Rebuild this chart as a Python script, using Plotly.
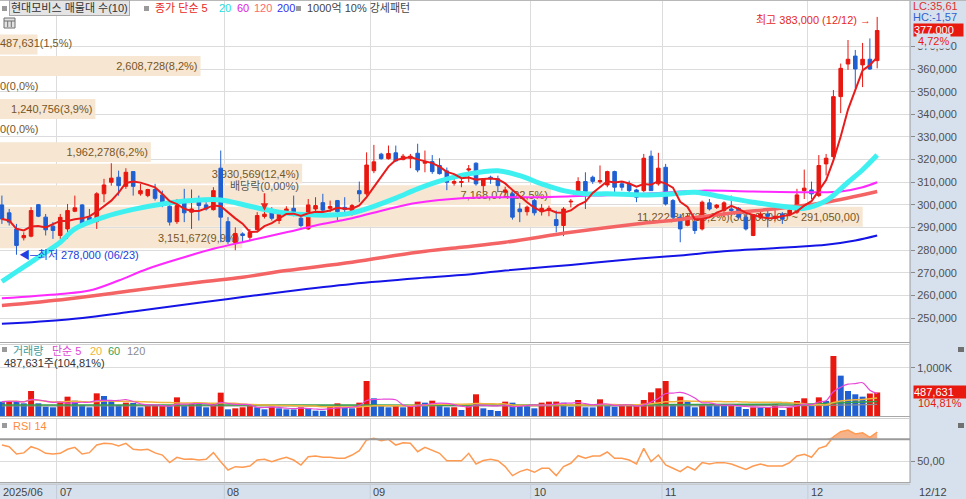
import numpy as np
import pandas as pd
import plotly.graph_objects as go

W, H = 966, 499

# ---------------- data ----------------
HOLIDAYS = ["2025-08-15", "2025-10-03", "2025-10-06", "2025-10-07", "2025-10-08", "2025-10-09"]
dates = [d for d in pd.bdate_range("2025-06-19", "2025-12-12") if d.strftime("%Y-%m-%d") not in HOLIDAYS]

open_k = [300.0, 296.5, 289.4, 285.5, 286.2, 300.1, 294.6, 290.6, 286.5, 289.4,
          297.2, 300.0, 294.6, 292.6, 304.9, 310.0, 312.2, 308.2, 314.7, 304.9,
          304.1, 306.8, 304.4, 299.4, 292.6, 302.4, 296.8, 302.4, 300.0, 297.9,
          316.2, 292.6, 283.4, 287.2, 285.7, 289.1, 294.9, 297.5, 293.1, 296.5,
          298.5, 294.1, 289.4, 298.2, 301.0, 298.5, 301.9, 298.9, 295.9, 306.3,
          304.9, 315.1, 322.4, 320.4, 323.0, 320.0, 320.6, 322.8, 318.4, 319.1,
          317.4, 315.0, 309.6, 309.9, 315.4, 318.4, 308.5, 312.2, 311.5, 305.6,
          304.9, 298.2, 297.0, 301.9, 297.0, 297.5, 293.5, 290.9, 301.3, 304.9,
          310.3, 312.2, 310.2, 308.8, 314.7, 309.3, 309.3, 306.6, 306.3, 321.5,
          309.3, 316.6, 301.9, 294.6, 291.0, 292.6, 289.4, 300.9, 298.9, 297.5,
          298.2, 298.5, 294.6, 286.5, 294.6, 296.0, 294.1, 296.0, 295.6, 296.8,
          306.3, 306.6, 304.1, 318.1, 321.3, 347.8, 362.2, 365.7, 361.8, 364.3,
          363.7]
high_k = [304.1, 298.2, 291.6, 287.9, 299.0, 300.4, 296.0, 292.4, 296.0, 300.4,
          304.1, 300.4, 298.2, 305.6, 311.5, 318.4, 315.1, 316.2, 314.9, 309.3,
          307.1, 309.3, 306.3, 300.0, 302.6, 307.1, 306.8, 304.1, 301.2, 307.8,
          324.0, 294.6, 290.1, 287.9, 289.4, 296.8, 297.0, 299.0, 297.5, 299.4,
          304.1, 296.0, 302.6, 303.4, 304.9, 301.9, 302.2, 303.4, 300.4, 310.3,
          323.2, 326.5, 323.0, 326.2, 326.2, 322.5, 322.5, 327.0, 324.0, 322.0,
          320.6, 316.5, 311.8, 312.2, 317.6, 318.8, 311.8, 312.9, 312.9, 308.0,
          305.6, 300.9, 299.7, 302.6, 300.4, 299.7, 297.5, 299.0, 302.6, 312.2,
          314.4, 312.9, 317.4, 315.1, 315.1, 310.3, 310.7, 307.1, 322.5, 324.0,
          323.0, 318.1, 302.6, 296.0, 296.0, 293.8, 301.9, 302.6, 300.4, 301.6,
          304.1, 299.0, 296.0, 296.0, 298.2, 297.5, 299.7, 296.8, 299.7, 307.1,
          315.6, 310.3, 322.0, 322.5, 350.7, 362.4, 372.8, 368.4, 371.5, 373.5,
          383.0]
low_k = [291.6, 290.9, 278.0, 284.3, 285.7, 294.6, 286.5, 285.0, 285.0, 285.0,
         296.8, 290.1, 291.6, 289.4, 301.2, 308.5, 304.1, 307.1, 304.1, 304.1,
         303.4, 301.9, 299.0, 290.9, 291.6, 292.4, 289.4, 293.1, 297.5, 297.5,
         283.5, 282.8, 280.0, 283.5, 284.3, 288.7, 294.0, 293.1, 291.6, 295.6,
         295.0, 290.1, 289.0, 296.8, 297.0, 296.8, 293.1, 296.0, 295.3, 301.2,
         304.1, 314.0, 320.0, 320.0, 319.0, 319.7, 316.2, 314.4, 314.4, 313.7,
         313.4, 306.5, 308.5, 307.8, 310.0, 308.5, 305.6, 309.3, 305.6, 304.1,
         293.5, 292.4, 295.3, 295.3, 295.3, 295.0, 287.9, 286.2, 298.9, 304.1,
         298.2, 309.3, 309.3, 307.8, 304.9, 306.3, 305.6, 301.2, 305.6, 306.3,
         308.5, 299.7, 293.8, 283.5, 290.6, 287.2, 288.7, 297.5, 298.2, 294.6,
         295.3, 293.8, 288.7, 286.2, 293.8, 290.1, 293.1, 291.6, 295.0, 296.0,
         302.6, 302.6, 303.4, 313.0, 320.0, 340.5, 359.6, 351.6, 352.0, 359.6,
         360.3]
close_k = [293.8, 292.4, 282.1, 286.5, 297.5, 295.0, 289.0, 288.7, 294.5, 297.5,
           298.7, 290.9, 293.0, 304.9, 308.8, 311.8, 308.5, 314.4, 308.2, 306.3,
           306.8, 302.9, 300.0, 292.4, 299.7, 296.5, 298.2, 299.7, 298.2, 306.3,
           294.6, 283.8, 287.4, 286.5, 287.9, 295.3, 295.9, 294.1, 296.5, 298.2,
           296.0, 290.9, 300.0, 299.7, 297.7, 299.3, 297.0, 298.0, 299.7, 304.9,
           317.6, 319.0, 320.4, 322.7, 319.4, 321.5, 321.5, 315.4, 319.1, 314.7,
           313.8, 310.0, 310.3, 310.3, 315.9, 309.3, 311.5, 311.5, 308.5, 306.6,
           294.6, 297.0, 299.0, 296.5, 298.5, 298.5, 290.9, 298.2, 301.6, 310.3,
           305.9, 310.4, 310.7, 314.7, 307.8, 307.8, 306.3, 303.4, 320.6, 306.3,
           316.2, 300.4, 294.6, 289.4, 295.0, 288.7, 301.2, 298.2, 299.9, 300.9,
           297.5, 294.6, 289.4, 295.6, 296.0, 295.0, 295.0, 293.8, 297.7, 304.4,
           307.4, 304.9, 317.4, 320.6, 347.8, 360.3, 364.3, 360.0, 364.3, 360.0,
           377.0]
volume_k = [297, 310, 305, 262, 518, 262, 193, 180, 297, 400,
            317, 228, 180, 469, 414, 317, 228, 276, 270, 180,
            207, 210, 212, 205, 386, 207, 248, 245, 180, 248,
            483, 138, 159, 180, 221, 180, 138, 193, 159, 138,
            136, 180, 159, 110, 108, 193, 262, 180, 159, 276,
            725, 366, 207, 180, 207, 180, 207, 297, 276, 317,
            228, 180, 181, 124, 207, 449, 159, 124, 104, 297,
            276, 207, 205, 159, 276, 297, 298, 276, 193, 331,
            180, 178, 345, 207, 193, 207, 210, 212, 331, 490,
            573, 725, 250, 400, 297, 180, 248, 240, 228, 207,
            210, 193, 145, 180, 178, 182, 248, 124, 180, 310,
            366, 207, 386, 310, 1242, 835, 518, 449, 400, 465.26,
            487.631]
rsi14 = [64.7, 63.2, 56.5, 57.5, 63.2, 61.0, 57.1, 56.5, 57.1, 60.8,
         62.6, 56.5, 57.7, 64.7, 66.3, 66.0, 63.8, 66.3, 60.8, 60.2,
         60.8, 57.5, 55.5, 48.5, 53.4, 51.6, 51.8, 51.0, 51.6, 57.7,
         49.4, 41.7, 44.8, 44.2, 45.4, 50.9, 51.6, 49.4, 51.6, 53.4,
         50.9, 46.3, 54.0, 54.6, 53.4, 53.4, 52.5, 52.5, 55.5, 59.5,
         69.4, 70.9, 68.7, 70.0, 64.7, 66.9, 66.3, 58.6, 62.6, 59.5,
         57.1, 50.3, 50.3, 50.3, 57.1, 47.3, 50.5, 51.6, 50.3, 44.8,
         36.5, 40.2, 42.3, 39.6, 43.3, 43.3, 36.5, 44.8, 47.9, 54.9,
         52.5, 54.6, 54.6, 58.3, 52.5, 52.5, 50.9, 47.3, 61.7, 49.4,
         55.5, 46.3, 43.3, 40.2, 44.8, 41.7, 48.5, 47.3, 48.5, 48.5,
         47.3, 44.8, 42.3, 45.4, 47.3, 45.4, 45.4, 45.4, 48.5, 54.6,
         56.1, 53.4, 61.7, 63.8, 72.4, 77.0, 78.6, 74.9, 76.1, 71.8,
         76.7]

# moving averages (index of candle, value in thousand won)
ma20_idx = [0, 2, 5, 8, 10, 14, 18, 22, 26, 30, 34, 38, 42, 46, 48, 51, 54, 57, 60, 64, 68,
            71, 74, 77, 80, 83, 88, 92, 95, 99, 103, 108, 110, 113, 116, 118, 120]
ma20_k = [266.2, 270.5, 276.9, 283.5, 289.4, 294.6, 298.0, 300.4, 301.9, 302.2, 299.4, 296.8,
          295.6, 295.6, 296.5, 299.4, 303.0, 307.1, 310.5, 313.7, 315.1, 312.9, 309.3, 306.3,
          304.9, 304.9, 304.4, 304.9, 305.6, 303.4, 301.2, 299.0, 298.5, 301.9, 310.0, 315.5, 322.0]
ma60_idx = [0, 8, 12, 16, 20, 25, 29, 34, 39, 43, 48, 53, 57, 63, 67, 74, 81, 88, 93, 96,
            103, 111, 115, 118, 120]
ma60_k = [258.8, 260.7, 262.2, 266.6, 271.8, 276.9, 280.6, 284.3, 287.9, 290.9, 294.1, 298.2,
          300.9, 302.9, 303.4, 303.4, 304.1, 304.9, 305.9, 306.3, 305.9, 305.6, 305.9, 307.8, 310.0]
ma120_idx = [0, 9, 18, 27, 33, 39, 48, 57, 63, 69, 78, 87, 93, 99, 108, 113, 120]
ma120_k = [255.6, 258.5, 262.2, 265.9, 268.1, 271.0, 274.7, 279.1, 281.3, 283.5, 287.9, 291.6,
           293.6, 296.0, 299.0, 301.2, 305.9]
ma200_idx = [0, 9, 18, 27, 33, 39, 48, 57, 63, 69, 78, 87, 93, 99, 108, 113, 117, 120]
ma200_k = [247.5, 249.4, 252.9, 256.8, 259.3, 261.8, 265.1, 267.6, 269.0, 271.0, 273.5, 276.2,
           277.7, 279.5, 281.3, 282.4, 284.3, 286.5]
vma60_idx = [0, 20, 40, 60, 80, 95, 105, 112, 116, 120]
vma60_k = [228, 230, 228, 225, 228, 240, 245, 255, 280, 298]
vma120_idx = [0, 30, 60, 90, 110, 120]
vma120_k = [207, 210, 207, 210, 215, 240]

# volume profile (매물대) bands, top to bottom
band_center_k = [370.8, 361.3, 351.8, 342.3, 332.8, 323.3, 313.8, 304.3, 294.8, 285.3]
band_volume = [487631, 2608728, 0, 1240756, 0, 1962278, 3930569, 7168074, 11222847, 3151672]
band_pct = [1.5, 8.2, 0.0, 3.9, 0.0, 6.2, 12.4, 22.5, 35.2, 9.9]
band_max_range = (300000, 291050)
band_height_k = 8.8

month_labels = ["2025/06", "07", "08", "09", "10", "11", "12"]
price_ticks_k = list(range(250, 380, 10))

# ---------------- derived ----------------
n = len(dates)
assert all(len(a) == n for a in [open_k, high_k, low_k, close_k, volume_k, rsi14])
idx = list(range(n))
o = np.array(open_k) * 1000
c = np.array(close_k) * 1000
h = np.maximum(np.array(high_k) * 1000, np.maximum(o, c))
l = np.minimum(np.array(low_k) * 1000, np.minimum(o, c))
vol = np.array(volume_k) * 1000
ma5 = pd.Series(c).rolling(5, min_periods=1).mean()
vma5 = pd.Series(vol).rolling(5, min_periods=1).mean()
vma20 = pd.Series(vol).rolling(20, min_periods=1).mean()

month_start = [0] + [i for i in range(1, n) if dates[i].month != dates[i - 1].month]
grid_x = [m - 0.5 for m in month_start[1:]]

RED, BLUE = "#e8170f", "#1f5fd2"
vol_colors = [BLUE] + [RED if vol[i] >= vol[i - 1] else BLUE for i in range(1, n)]

def comma_dec(s):
    return s.replace(".", ",")

pct_chg = (c[-1] / c[-2] - 1) * 100
vol_ratio = vol[-1] / vol[-2] * 100
lc = (c[-1] / l.min() - 1) * 100
hc = (c[-1] / h.max() - 1) * 100
i_hi, i_lo = int(np.argmax(h)), int(np.argmin(l))

# ---------------- layout geometry (pixels) ----------------
XR = 910 / W
def py(p):
    return 1 - p / H
X_RANGE = [-0.26, 124.5]
MAIN_DOM = [py(342), py(1)]
VOL_DOM = [py(416), py(344)]
RSI_DOM = [py(482), py(419)]
PRICE_RANGE = [239470, 390020]
VOL_RANGE = [0, 1490000]
RSI_RANGE = [30.65, 88.71]

FONT = "Liberation Sans, Noto Sans CJK KR, sans-serif"
BAND_TXT = "#765626"
STRIP = "#d7e1ed"

fig = go.Figure()

# volume profile bars (base subplot, under the candles)
bmax = max(band_volume)
band_text = []
small_x, small_y, small_t = [], [], []
for v, p, ck in zip(band_volume, band_pct, band_center_k):
    t = comma_dec(f"{v:,}({p:.1f}%)")
    if v == bmax:
        t += comma_dec(f"({band_max_range[0]:,.2f} ~ {band_max_range[1]:,.2f})")
    if v / bmax > 0.1:
        band_text.append(t)
    else:
        band_text.append("")
        small_x.append(0); small_y.append(ck * 1000); small_t.append(t)

fig.add_trace(go.Bar(
    x=band_volume, y=[b * 1000 for b in band_center_k], orientation="h",
    width=band_height_k * 1000, marker=dict(color="#f6e6d2", line=dict(width=0)),
    text=band_text, textposition="inside", insidetextanchor="end", textangle=0,
    insidetextfont=dict(color=BAND_TXT, size=11, family=FONT),
    xaxis="x", yaxis="y", hoverinfo="skip", showlegend=False))
fig.add_trace(go.Scatter(
    x=small_x, y=small_y, mode="text", text=small_t, textposition="middle right",
    textfont=dict(color=BAND_TXT, size=11, family=FONT),
    xaxis="x", yaxis="y", hoverinfo="skip", showlegend=False))

# candles
fig.add_trace(go.Candlestick(
    x=idx, open=o, high=h, low=l, close=c, xaxis="x2", yaxis="y",
    increasing=dict(line=dict(color=RED, width=1), fillcolor=RED),
    decreasing=dict(line=dict(color=BLUE, width=1), fillcolor=BLUE),
    whiskerwidth=0, hoverinfo="skip", showlegend=False))

def ma_line(xs, ys, color, width, shape="spline"):
    fig.add_trace(go.Scatter(x=xs, y=ys, mode="lines", line=dict(color=color, width=width, shape=shape),
                             xaxis="x2", yaxis="y", hoverinfo="skip", showlegend=False))

ma_line(ma200_idx, [v * 1000 for v in ma200_k], "#1414e6", 2)
ma_line(ma120_idx, [v * 1000 for v in ma120_k], "#f46464", 3.5)
ma_line(ma60_idx, [v * 1000 for v in ma60_k], "#ff28ff", 2)
ma_line(ma20_idx, [v * 1000 for v in ma20_k], "#3ff0f0", 5)
ma_line(idx, ma5, "#e81c1c", 2, "linear")

# volume panel
fig.add_trace(go.Bar(x=idx, y=vol, marker=dict(color=vol_colors, line=dict(width=0)),
                     xaxis="x3", yaxis="y2", hoverinfo="skip", showlegend=False))
for xs, ys, col, wd in [(vma120_idx, [v * 1000 for v in vma120_k], "#8c8c8c", 1.2),
                        (vma60_idx, [v * 1000 for v in vma60_k], "#38a048", 1.5),
                        (idx, vma20, "#f0b43c", 1.5),
                        (idx, vma5, "#e848d8", 1.2)]:
    fig.add_trace(go.Scatter(x=xs, y=ys, mode="lines", line=dict(color=col, width=wd, shape="spline"),
                             xaxis="x3", yaxis="y2", hoverinfo="skip", showlegend=False))

# RSI panel
fig.add_trace(go.Scatter(x=idx, y=[70] * n, mode="lines", line=dict(width=0),
                         xaxis="x4", yaxis="y3", hoverinfo="skip", showlegend=False))
fig.add_trace(go.Scatter(x=idx, y=np.maximum(rsi14, 70), mode="lines", line=dict(width=0),
                         fill="tonexty", fillcolor="#f6b389",
                         xaxis="x4", yaxis="y3", hoverinfo="skip", showlegend=False))
fig.add_trace(go.Scatter(x=idx, y=rsi14, mode="lines", line=dict(color="#ff9a52", width=1.5),
                         xaxis="x4", yaxis="y3", hoverinfo="skip", showlegend=False))

GRID = "#dcdcdc"
idx_axis = dict(range=X_RANGE, tickvals=grid_x, showgrid=True, gridcolor=GRID, gridwidth=1,
                showticklabels=False, ticks="", zeroline=False, showline=False, fixedrange=True)
tickfont = dict(size=11, color="#505050", family=FONT)

fig.update_layout(
    width=W, height=H, margin=dict(l=0, r=0, t=0, b=0), autosize=False,
    paper_bgcolor="white", plot_bgcolor="white", font=dict(family=FONT, size=11, color="#333"),
    showlegend=False, boxgap=0.3, bargap=0.18,
    uniformtext=dict(minsize=11, mode="show"),
    xaxis=dict(domain=[0, XR], anchor="y", range=[0, bmax / 0.948], visible=False, fixedrange=True),
    xaxis2=dict(overlaying="x", anchor="y", rangeslider=dict(visible=False), **idx_axis),
    xaxis3=dict(domain=[0, XR], anchor="y2", **idx_axis),
    xaxis4=dict(domain=[0, XR], anchor="y3", **idx_axis),
    yaxis=dict(domain=MAIN_DOM, anchor="x", side="right", range=PRICE_RANGE,
               tickvals=[t * 1000 for t in price_ticks_k], ticktext=[f"{t * 1000:,}" for t in price_ticks_k],
               showgrid=True, gridcolor=GRID, ticks="outside", ticklen=4, tickcolor="#8a8a8a",
               tickfont=tickfont, zeroline=False, fixedrange=True),
    yaxis2=dict(domain=VOL_DOM, anchor="x3", side="right", range=VOL_RANGE,
                tickvals=[1000000], ticktext=["1,000K"], showgrid=True, gridcolor=GRID,
                ticks="outside", ticklen=4, tickcolor="#8a8a8a", tickfont=tickfont,
                zeroline=False, fixedrange=True),
    yaxis3=dict(domain=RSI_DOM, anchor="x4", side="right", range=RSI_RANGE,
                tickvals=[50], ticktext=["50,00"], showgrid=True, gridcolor=GRID,
                ticks="outside", ticklen=4, tickcolor="#8a8a8a", tickfont=tickfont,
                zeroline=False, fixedrange=True),
)

shapes = [
    dict(type="rect", xref="paper", yref="paper", x0=XR, x1=1, y0=0, y1=1, fillcolor=STRIP,
         line=dict(width=0), layer="below"),
    dict(type="rect", xref="paper", yref="paper", x0=0, x1=1, y0=0, y1=py(483), fillcolor=STRIP,
         line=dict(width=0), layer="below"),
    dict(type="line", xref="paper", yref="paper", x0=XR, x1=XR, y0=py(483), y1=1,
         line=dict(color="#9a9a9a", width=1)),
    dict(type="line", xref="paper", yref="paper", x0=0, x1=1, y0=py(0.5), y1=py(0.5),
         line=dict(color="#b8b8b8", width=1)),
    dict(type="line", xref="x4", yref="y3", x0=X_RANGE[0], x1=X_RANGE[1], y0=70, y1=70,
         line=dict(color="#9a9a9a", width=2)),
]
for yy, colr in [(342.5, "#a8a8a8"), (344.5, "#cfcfcf"), (416.5, "#a8a8a8"), (418.5, "#cfcfcf"),
                 (482.5, "#a8a8a8"), (484.2, "#c0c0c0")]:
    shapes.append(dict(type="line", xref="paper", yref="paper", x0=0, x1=XR, y0=py(yy), y1=py(yy),
                       line=dict(color=colr, width=1)))
for gx in grid_x:
    shapes.append(dict(type="line", xref="x4", yref="paper", x0=gx, x1=gx, y0=0, y1=py(484),
                       line=dict(color="#c4ccd6", width=1)))
# small legend squares and icons
for (x0, y0) in [(2, 6), (144, 6), (296, 6), (2, 347), (2, 423)]:
    shapes.append(dict(type="rect", xref="paper", yref="paper", x0=x0 / W, x1=(x0 + 5) / W,
                       y0=py(y0 + 5), y1=py(y0), fillcolor="#9a9a9a", line=dict(width=0)))
for (x0, y0) in [(958, 347), (958, 423)]:
    shapes.append(dict(type="rect", xref="paper", yref="paper", x0=x0 / W, x1=(x0 + 6) / W,
                       y0=py(y0 + 5), y1=py(y0), fillcolor="#707070", line=dict(width=0)))
shapes.append(dict(type="rect", xref="paper", yref="paper", x0=4 / W, x1=15 / W, y0=py(28), y1=py(18),
                   fillcolor="#e2e2e2", line=dict(color="#707070", width=1)))
for gxp in [7.7, 11.3]:
    shapes.append(dict(type="line", xref="paper", yref="paper", x0=gxp / W, x1=gxp / W, y0=py(27), y1=py(21),
                       line=dict(color="#707070", width=1)))
shapes.append(dict(type="line", xref="paper", yref="paper", x0=4 / W, x1=15 / W, y0=py(21), y1=py(21),
                   line=dict(color="#707070", width=1)))
fig.update_layout(shapes=shapes)

ann = []
def txt(text, xpx, ypx, color, size=11, xanchor="left", **kw):
    ann.append(dict(text=text, x=xpx / W, y=py(ypx), xref="paper", yref="paper", showarrow=False,
                    xanchor=xanchor, yanchor="middle", font=dict(color=color, size=size, family=FONT), **kw))

# top legend
txt("현대모비스 매물대 수(10)", 9, 8.5, "#333", bgcolor="#e4e4e4", bordercolor="#a8a8a8", borderwidth=1, borderpad=1)
txt("종가 단순 5", 153, 8.5, "#e8281e")
txt("20", 217, 8.5, "#22e0e0")
txt("60", 235, 8.5, "#e020e0")
txt("120", 252, 8.5, "#ff6b6b")
txt("200", 275, 8.5, "#3333ee")
txt("1000억 10% 강세패턴", 305, 8.5, "#444")
# volume legend
txt("거래량", 11, 351, "#3d9b9b")
txt("단순 5", 50, 351, "#e046d8")
txt("20", 88, 351, "#f0b43c")
txt("60", 106, 351, "#3ca050")
txt("120", 125, 351, "#8c8c8c")
txt(comma_dec(f"{vol[-1]:,.0f}주({vol_ratio:.2f}%)"), 2, 363, "#333")
# RSI legend
txt("RSI 14", 11, 426, "#ff8a3c")
# right strip
txt(comma_dec(f"LC:{lc:.2f}"), 911, 6.5, "#e03030")
txt(comma_dec(f"HC:{hc:.2f}"), 911, 17.5, "#3060d0")
txt(f"{dates[-1]:%m/%d}", 917, 492, "#444")
ann.append(dict(text=f"{c[-1]:,.0f}", x=913 / W, xref="paper", y=c[-1], yref="y", showarrow=False,
                xanchor="left", yanchor="middle", bgcolor="#e8190e", width=49, align="left",
                font=dict(color="white", size=11, family=FONT), borderpad=0))
ann.append(dict(text=comma_dec(f"{pct_chg:.2f}%"), x=916 / W, xref="paper", y=c[-1], yref="y", yshift=-11,
                showarrow=False, xanchor="left", yanchor="middle", bgcolor=STRIP,
                font=dict(color="#e8190e", size=11, family=FONT)))
ann.append(dict(text=f"{vol[-1]:,.0f}", x=913 / W, xref="paper", y=vol[-1], yref="y2", showarrow=False,
                xanchor="left", yanchor="middle", bgcolor="#e8190e", width=52, align="left",
                font=dict(color="white", size=11, family=FONT), borderpad=0))
ann.append(dict(text=comma_dec(f"{vol_ratio:.2f}%"), x=916 / W, xref="paper", y=vol[-1], yref="y2", yshift=-11,
                showarrow=False, xanchor="left", yanchor="middle", font=dict(color="#e8190e", size=11, family=FONT)))
# month labels
for lab, m in zip(month_labels, month_start):
    ann.append(dict(text=lab, x=max(m - 0.5, X_RANGE[0]), xref="x4", y=py(491.5), yref="paper",
                    xanchor="left", yanchor="middle", xshift=1, showarrow=False,
                    font=dict(color="#444", size=11, family=FONT)))
# high / low / ex-dividend markers
ann.append(dict(text=f"최고 {h[i_hi]:,.0f} ({dates[i_hi]:%m/%d}) →", x=i_hi, y=h[i_hi], xref="x2", yref="y",
                xanchor="right", yanchor="middle", xshift=-4, yshift=-3, showarrow=False,
                font=dict(color="#e8281e", size=11, family=FONT)))
ann.append(dict(text=f"◀─최저 {l[i_lo]:,.0f} ({dates[i_lo]:%m/%d})", x=i_lo, y=l[i_lo], xref="x2", yref="y",
                xanchor="left", yanchor="middle", xshift=1, showarrow=False,
                font=dict(color="#2040e0", size=11, family=FONT)))
i_div = [d.strftime("%Y-%m-%d") for d in dates].index("2025-08-08")
ann.append(dict(text="배당락(0,00%)", x=i_div, y=h[i_div], xref="x2", yref="y", showarrow=True,
                ax=0, ay=-26, arrowhead=2, arrowsize=1, arrowwidth=1.5, arrowcolor="#e8281e", standoff=1,
                font=dict(color="#555", size=11, family=FONT)))
fig.update_layout(annotations=ann)

fig.write_html("out.html", config={"displayModeBar": False, "staticPlot": True},
               post_script="document.body.style.margin='0';document.body.style.padding='0';"
                           "document.body.style.overflow='hidden';"
                           "document.documentElement.style.overflow='hidden';")
